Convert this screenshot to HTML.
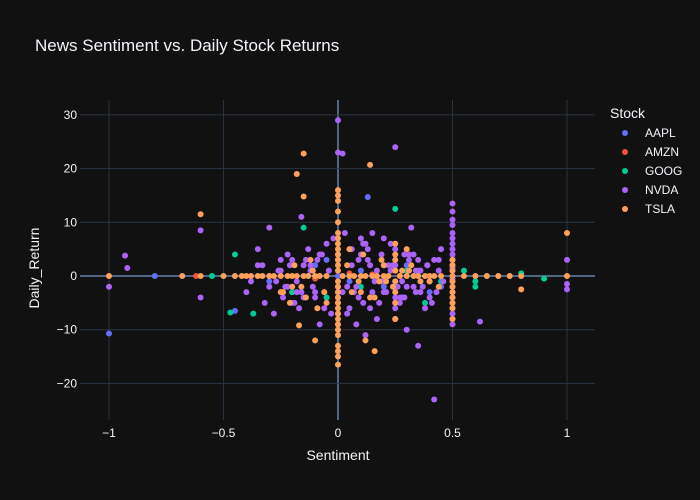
<!DOCTYPE html>
<html><head><meta charset="utf-8">
<style>
html,body{margin:0;padding:0;background:#111111;}
svg{display:block;font-family:"Liberation Sans",sans-serif;}
</style></head>
<body>
<svg id="chart" width="700" height="500">
<rect width="700" height="500" fill="#111111"/>
<text x="35" y="51" fill="#f2f5fa" font-size="17">News Sentiment vs. Daily Stock Returns</text>
<g id="grid"></g>
<g id="points"></g>
<g id="axes"></g>
<text x="338" y="460" fill="#f2f5fa" font-size="14" text-anchor="middle">Sentiment</text>
<text transform="translate(39,268) rotate(-90)" fill="#f2f5fa" font-size="14" text-anchor="middle">Daily_Return</text>
<g id="legend"></g>
</svg>
<script>
const xTicks=[-1,-0.5,0,0.5,1];
const xTickLabels=["−1","−0.5","0","0.5","1"];
const yTicks=[-20,-10,0,10,20,30];
const yTickLabels=["−20","−10","0","10","20","30"];
const seriesNames=["AAPL","AMZN","GOOG","NVDA","TSLA"];
const seriesColors=["#636efa","#ef553b","#00cc96","#ab63fa","#ffa15a"];
const aaplX=[-1,-0.8,0.13,-0.45,0.3,-0.2,0.1,0.4,0.05,-0.1,0.2,0.35,-0.3,0.45,0.0,-0.05];
const aaplY=[-10.7,0,14.7,-6.5,2,-3,1,-3,-1,2,-2,1,-1,-2,0,3];
const amznX=[-0.62,0.05,0.2,-0.3,0.3,-0.1,0.15];
const amznY=[0,0.5,-1,0,1,-0.5,0.3];
const googX=[0.25,-0.45,-0.47,-0.37,-0.15,0.9,0.8,0.6,0.45,0.55,-0.55,0.2,0,-0.2,0.1,0.3,-0.05,0.38,0.6,0.5];
const googY=[12.5,4,-6.8,-7,9,-0.5,0.5,-2,-1,1,0,2,3,-3,-2,1,-4,-5,-1,3];
const nvdaX=[0,0.25,0,0.02,0.42,0.35,-0.93,-0.92,-1,-0.6,-0.6,-0.3,0.62,1,1,1,
0.5,0.5,0.5,0.5,0.5,0.5,0.5,0.5,0.5,0.5,0.5,0.5,0.5,0.5,0.5,0.5,0.5,
-0.4,-0.35,-0.3,-0.25,-0.2,-0.15,-0.1,-0.05,0.05,0.1,0.15,0.2,0.25,0.3,0.35,0.4,0.45,
-0.38,-0.28,-0.22,-0.18,-0.12,-0.08,0.03,0.08,0.12,0.18,0.22,0.28,0.32,0.38,0.42,
-0.33,-0.27,-0.17,-0.13,-0.03,0.07,0.13,0.17,0.23,0.27,0.33,0.37,0.43,
0,0,0,0,0,0,0,0,0.25,0.25,0.25,0.25,0.25,0.25,-0.16,0.15,0.1,0.2,0.3,0.12,0.08,-0.02,
-0.25,-0.22,-0.2,-0.18,-0.15,-0.12,-0.1,-0.08,-0.06,-0.04,0.04,0.06,0.09,0.11,0.14,0.16,0.19,0.21,0.24,0.26,0.29,0.31,0.34,0.36,0.39,0.41,0.44,
-0.24,-0.21,-0.19,-0.14,-0.11,-0.07,0.02,0.06,0.09,0.13,0.17,0.21,0.23,0.28,0.31,0.33,0.36,0.4,0.44,0.46,
-0.35,-0.32,-0.26,-0.23,-0.16,-0.09,0.04,0.11,0.14,0.19,0.27,0.29,0.34,0.39,
0.5,0.5,0.5,0.5,0.5,0.5,0.25,0.25,0.25,0.25];
const nvdaY=[29,24,23,22.8,-23,-13,3.8,1.5,-2,-4,8.5,9,-8.5,3,-1.5,-2.5,
13.5,9.5,8,6,5,4,3,2,1,-1,-2,-3,-4,-5,-6,-7,-9,
-3,5,-2,3,-5,2,-4,6,-6,4,-3,7,-8,-2,3,-1,5,
-1,-7,4,-3,1,-9,8,-2,6,-5,2,-4,9,-6,3,
2,-1,-6,5,-7,-3,3,-8,1,-4,4,-2,-3,
-2,-3,-4,-5,-7,4,3,-9,5,-5,-2,-6,2,1,11,8,7,-3,-10,-11,-9,7,
1,-2,3,-1,-4,2,-3,4,-6,1,-2,5,3,-5,2,-1,4,-3,2,-2,-4,3,1,-3,2,-5,1,
-4,2,-5,3,-2,4,-3,2,-4,5,1,-3,6,-1,4,-2,1,-4,3,-1,
2,-5,1,-2,-3,3,-7,6,-6,-1,-5,4,-3,2,
7,10.5,-8,12,-0.5,1.5,-1,-2,1,-4];
const tslaX=[0,0,0,0,0,0,0,0,0,0,0,0,0,0,0,0,0,0,0,0,0,0,0,0,0,0,
-1,-0.68,-0.6,-0.5,-0.45,-0.4,-0.35,-0.3,-0.25,-0.2,-0.15,-0.1,-0.05,0.05,0.1,0.15,0.2,0.3,0.35,0.4,0.45,0.5,0.55,0.6,0.65,0.7,0.75,0.8,1.0,
-0.6,-0.18,-0.15,-0.15,0.14,-0.1,0.12,0.16,-0.17,0.25,0.8,1,0.5,0.5,0.5,0.25,0.25,0.3,0.05,-0.05,0.1,-0.2,0.2,-0.25,0.4,-0.12,0.18,0.32,0.5,0.25,
-0.08,-0.13,-0.18,-0.22,-0.28,-0.33,0.02,0.07,0.12,0.17,0.22,0.27,0.33,0.38,0.42,-0.38,-0.42,
-0.16,-0.11,-0.06,0.04,0.09,0.14,0.19,0.24,0.28,0.36,-0.24,-0.19,0.0,0.0,0.5,0.5,0.5,0.5,0.25,0.25,0.25,0.25,
-0.14,-0.09,0.06,0.11,0.16,0.21,-0.21,0.31,0.44,0.5,0.5];
const tslaY=[16,15,14,12,10,8,6,5,4,3,2,1,-1,-2,-3,-4,-5,-6,-8,-9,-10,-11,-13,-14,-15,-16.5,
0,0,0,0,0,0,0,0,0,0,0,0,0,0,0,0,0,0,0,0,0,0,0,0,0,0,0,0,0,
11.5,19,22.8,14.8,20.7,-12,-12,-14,-9.2,-8,-2.5,8,-4,-2,2,3,-3,5,5,-5,-3,-2,2,-3,-1,3,-1,2,-5,6,
0,0,0,0,0,0,0,0,0,0,0,0,0,0,0,0,0,
-2,1,-3,2,-1,-4,3,-2,1,-1,-3,2,7,-7,-1,-3,1,3,-1,-5,4,1,
-4,-6,-3,4,-4,-1,-5,1,-2,-6,-8];
const seriesX=[aaplX,amznX,googX,nvdaX,tslaX];
const seriesY=[aaplY,amznY,googY,nvdaY,tslaY];

const NS="http://www.w3.org/2000/svg";
const L=80,R=595,T=100,B=420;
function xs(v){return 338+v*229;}
function ys(v){return 276-v*5.37;}
function mk(tag,attrs,parent){const e=document.createElementNS(NS,tag);for(const k in attrs)e.setAttribute(k,attrs[k]);parent.appendChild(e);return e;}
const grid=document.getElementById('grid'),axes=document.getElementById('axes');
xTicks.forEach((v,i)=>{
  const x=xs(v);
  const g=mk('line',{x1:x,x2:x,y1:T,y2:B,stroke:v===0?'#506784':'#283442','stroke-width':v===0?2:1},grid);
  
  
  const t=mk('text',{x:x,y:437,fill:'#f2f5fa','font-size':12,'text-anchor':'middle'},axes);
  t.textContent=xTickLabels[i];
  
  
});
yTicks.forEach((v,i)=>{
  const y=ys(v);
  const g=mk('line',{x1:L,x2:R,y1:y,y2:y,stroke:v===0?'#506784':'#283442','stroke-width':v===0?2:1},grid);
  
  
  const t=mk('text',{x:L-3,y:y+4,fill:'#f2f5fa','font-size':12,'text-anchor':'end'},axes);
  t.textContent=yTickLabels[i];
  
  
});
const pts=document.getElementById('points');
seriesNames.forEach((n,s)=>{
  const g=mk('g',{},pts);
  
  
  seriesX[s].forEach((xv,i)=>{
    const c=mk('circle',{cx:xs(xv),cy:ys(seriesY[s][i]),r:3,fill:seriesColors[s]},g);
    
    
  });
});
const leg=document.getElementById('legend');
const lt=mk('text',{x:610,y:118,fill:'#f2f5fa','font-size':14},leg);
lt.textContent='Stock';


seriesNames.forEach((n,s)=>{
  const y=133+s*19;
  const g=mk('g',{},leg);
  
  
  mk('circle',{cx:625,cy:y,r:3,fill:seriesColors[s]},g);
  const t=mk('text',{x:645,y:y+4,fill:'#f2f5fa','font-size':12},g);
  t.textContent=n;
});
</script>
</body></html>
